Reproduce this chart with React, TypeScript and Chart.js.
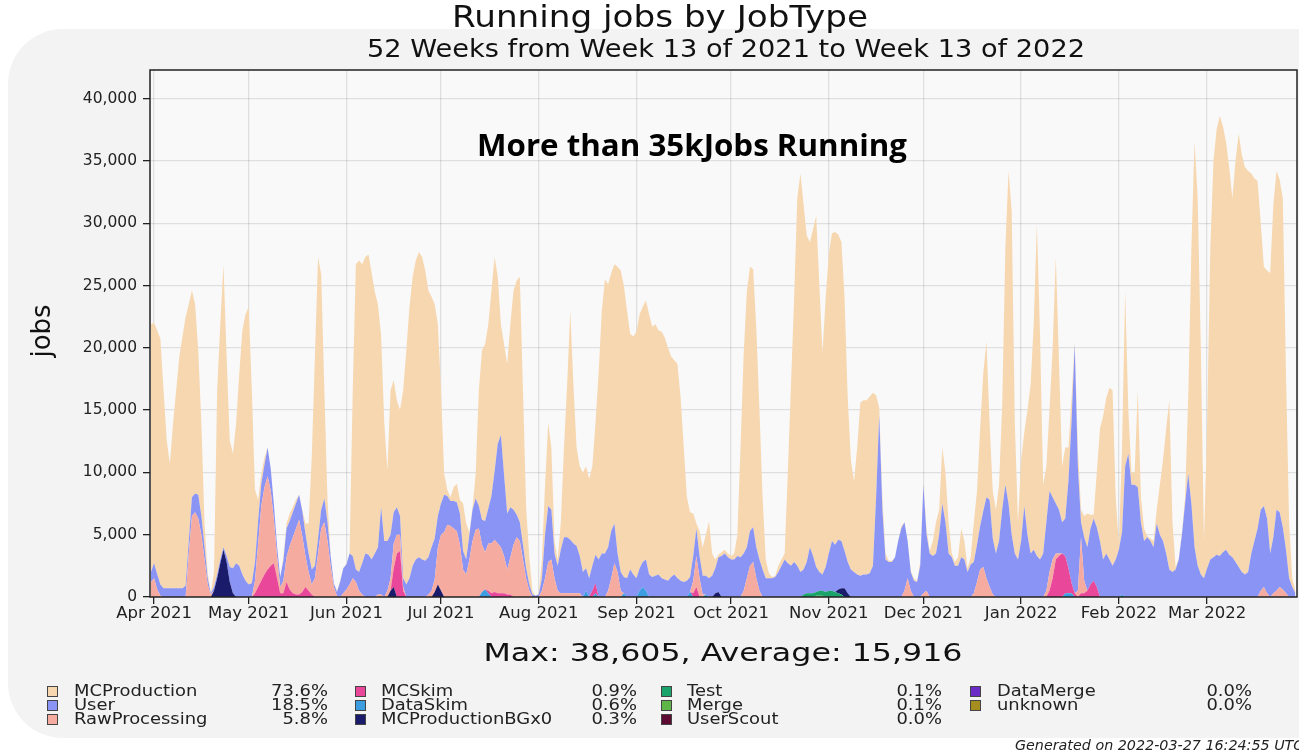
import React, { useEffect, useRef } from "react";
import { Chart, registerables } from "chart.js";

Chart.register(...registerables);

// x = day number, day 0 = 1 Apr 2021. One value per day, first value is day -1.
const FIRST_DAY = -1;
const X_MIN = -1.3;
const X_MAX = 362.5;

const MONTH_TICK_DAYS = [0, 30, 61, 91, 122, 153, 183, 214, 244, 275, 306, 334];
const MONTH_TICK_LABELS = [
  "Apr 2021", "May 2021", "Jun 2021", "Jul 2021", "Aug 2021", "Sep 2021",
  "Oct 2021", "Nov 2021", "Dec 2021", "Jan 2022", "Feb 2022", "Mar 2022",
];

const Y_MAX = 42300;
const Y_TICK_VALUES = [0, 5000, 10000, 15000, 20000, 25000, 30000, 35000, 40000];

const MC_PRODUCTION = [
  19900, 19300, 19600, 19700, 15900, 11900, 10000, 13200, 15900, 18600,
  20200, 21600, 19000, 16600, 15200, 11600, 7400, 1900, 400, 0,
  1200, 14800, 18900, 22700, 16000, 10200, 9200, 11200, 15400, 19600,
  21400, 22300, 15500, 5800, 1700, 800, 600, 0, 0, 0,
  0, 0, 300, 400, 600, 400, 300, 0, 100, 800,
  2400, 9000, 16800, 22600, 18900, 8700, 1800, 0, 0, 100,
  100, 0, 100, 0, 13300, 24500, 25000, 24000, 23800, 24100,
  23000, 21000, 19500, 13800, 9500, 5700, 11600, 10600, 8600, 8500,
  15100, 18800, 21800, 23200, 24000, 24500, 24300, 23300, 21400, 20100,
  18800, 15400, 9100, 1700, 500, 300, 1100, 1500, 1100, 3800,
  2900, 200, 200, 2000, 9300, 13600, 14200, 14800, 16500, 17200,
  13400, 8900, 10500, 12000, 14700, 17600, 18800, 19700, 12400, 4900,
  2200, 300, 0, 100, 1500, 4000, 6700, 5000, 1000, 500,
  2200, 7200, 12200, 18400, 12700, 7900, 7200, 8000, 8200, 8000,
  8000, 10600, 15000, 19500, 22000, 21100, 20700, 20800, 23000, 24200,
  23400, 21500, 18900, 19100, 19800, 20400, 20500, 20800, 20900, 20100,
  20200, 19600, 19800, 19400, 18700, 17700, 17200, 17200, 14700, 10800,
  6700, 5200, 3400, 400, 2000, 2300, 3300, 4600, 1800, 700,
  200, 300, 300, 300, 300, 500, 1700, 8800, 16000, 20500,
  21200, 20700, 17600, 12000, 5800, 1500, 400, 100, 100, 500,
  500, 500, 7300, 14500, 21200, 29500, 32000, 29300, 26200, 24500,
  26200, 28200, 23100, 17800, 21600, 24000, 24700, 25100, 24500, 24000,
  20300, 13200, 8800, 7300, 10200, 13900, 14000, 14000, 14200, 13900,
  8200, 600, 1000, 500, 100, 100, 0, 0, 200, 0,
  0, 100, 200, 100, 300, 200, 500, 200, 1200, 2500,
  2000, 4500, 4000, 2500, 300, 300, 700, 2300, 1500, 300,
  600, 3200, 4300, 7800, 11100, 12500, 6200, 3800, 3500, 4500,
  8500, 19000, 26700, 26000, 10500, 3000, 6500, 5900, 10000, 13500,
  18200, 26700, 18000, 5500, 4500, 6500, 12000, 19800, 12000, 4500,
  5700, 2700, 1900, 200, 1500, 1000, 1700, 2700, 1100, 300,
  4400, 9000, 11500, 12500, 13800, 14100, 5000, 400, 6800, 14100,
  3500, 1000, 1000, 7800, 2000, 1000, 100, 200, 500, 1100,
  4000, 6500, 10000, 13600, 4000, 200, 100, 200, 500, 6100,
  20500, 32600, 29500, 18200, 3000, 11700, 25000, 31800, 34100, 35300,
  34200, 32700, 31100, 28800, 32200, 34800, 33500, 32700, 32200, 30500,
  29100, 27900, 23000, 19200, 19900, 22500, 26700, 27200, 26700, 26400,
  14200, 4500, 700, 200,
];

const USER = [
  800, 1200, 1200, 900, 700, 700, 700, 700, 700, 700,
  700, 900, 1000, 1500, 1500, 1900, 1500, 1000, 500, 100,
  300, 300, 300, 200, 500, 1200, 2000, 2700, 2500, 1800,
  1300, 1000, 1100, 1500, 1800, 1800, 1800, 2300, 1800, 1200,
  800, 800, 1600, 2300, 2000, 2000, 2000, 2000, 2000, 1800,
  1500, 1200, 1000, 1200, 1500, 1900, 1500, 800, 300, 300,
  1200, 2000, 2000, 2500, 1800, 1000, 1500, 2500, 3500, 3400,
  3000, 3500, 3800, 7000, 4500, 4000, 3500, 2500, 2200, 1500,
  700, 1000, 1500, 2500, 3000, 3200, 3000, 2900, 3000, 3500,
  3300, 2500, 2500, 3000, 2300, 2000, 2200, 2300, 2500, 1500,
  1200, 2000, 2500, 2500, 1800, 2000, 2500, 2800, 3800, 5500,
  8000, 9000, 6500, 4500, 4000, 2800, 1800, 1500, 1200, 800,
  500, 200, 100, 200, 1000, 3500, 4500, 4000, 2000, 2000,
  3500, 4500, 4500, 4300, 4000, 3800, 3000, 2000, 1800, 1500,
  2000, 2300, 3000, 3500, 3500, 3500, 3800, 3200, 1500, 1500,
  1300, 1500, 2200, 1800, 1500, 1800, 2000, 2500, 1800, 1600,
  1700, 1800, 1500, 1400, 1300, 1600, 1800, 1500, 1300, 1200,
  1300, 1200, 2000, 2200, 1800, 1500, 1500, 1500, 1700, 2000,
  2800, 3300, 3500, 3200, 3000, 3000, 3300, 3200, 3000, 2500,
  2800, 2800, 2500, 2500, 2200, 1500, 1500, 1500, 1600, 2000,
  2500, 3000, 2700, 2500, 2800, 2500, 2000, 2000, 2500, 3700,
  3000, 2000, 1500, 1300, 2000, 3000, 4000, 3800, 4000, 3800,
  3000, 2500, 2200, 2000, 1800, 1700, 1800, 1800, 1900, 2500,
  8000, 14600, 7000, 3000, 2800, 2800, 3200, 4500, 5500, 5500,
  3000, 1500, 1300, 1200, 2500, 8700, 4500, 3500, 3300, 3500,
  5000, 7500, 6000, 3500, 3200, 2500, 2500, 3200, 3000, 2000,
  2600, 2500, 3000, 3500, 4500, 6500, 7000, 4500, 3500, 4500,
  7000, 9000, 7500, 5000, 3500, 3000, 4500, 7300, 5000, 3500,
  3800, 3300, 3000, 3500, 5500, 6500, 5000, 4000, 3500, 2500,
  3000, 7000, 13000, 20000, 10000, 1200, 3500, 3500, 4500, 5000,
  4800, 4500, 3000, 3500, 3000, 2500, 3000, 3800, 5000, 10500,
  11500, 9000, 9000, 8800, 6000, 4500, 4800, 4500, 4000, 5900,
  5000, 4500, 3500, 2200, 2000, 2200, 3000, 5000, 7500, 9900,
  7500, 4000, 2500, 1800, 1500, 2300, 3000, 3200, 3400, 3300,
  3600, 3800, 3400, 3200, 2800, 2400, 2000, 1800, 2000, 3500,
  4500, 5500, 6500, 6500, 6000, 3500, 4500, 6500, 6000, 5000,
  3500, 1500, 800, 300,
];

const RAW_PROCESSING = [
  1200, 1500, 600, 100, 0, 0, 0, 0, 0, 0,
  0, 0, 3500, 6500, 6800, 6300, 5000, 3000, 1000, 200,
  0, 0, 0, 0, 0, 0, 0, 0, 0, 0,
  0, 0, 0, 1000, 3500, 6000, 7000, 7500, 6000, 3500,
  1800, 500, 1000, 2000, 3500, 4500, 5300, 6000, 4500, 2500,
  1500, 800, 1500, 3500, 5500, 6000, 4500, 2500, 800, 100,
  0, 300, 600, 1000, 1500, 1200, 500, 200, 0, 0,
  0, 0, 200, 200, 0, 500, 1000, 2000, 1500, 1300,
  300, 0, 0, 0, 0, 0, 0, 0, 200, 500,
  1000, 3000, 4500, 5200, 5800, 5700, 5500, 5300, 4200, 2200,
  1800, 3000, 4500, 5400, 5500, 3800, 3000, 3800, 4000, 4200,
  4000, 3700, 3000, 2000, 3000, 4200, 4800, 4500, 3000, 1500,
  500, 0, 0, 0, 500, 1500, 2800, 3000, 1500, 500,
  300, 300, 300, 300, 300, 300, 300, 0, 0, 0,
  0, 0, 0, 0, 0, 500, 1500, 2700, 2000, 500,
  0, 0, 0, 0, 0, 0, 0, 0, 0, 0,
  0, 0, 0, 0, 0, 0, 0, 0, 0, 0,
  0, 0, 1000, 2500, 1500, 200, 0, 0, 0, 0,
  0, 0, 0, 0, 0, 0, 0, 0, 500, 1500,
  2500, 2800, 1500, 500, 0, 0, 0, 0, 0, 0,
  0, 0, 0, 0, 0, 0, 0, 0, 0, 0,
  0, 0, 0, 0, 0, 0, 0, 0, 0, 0,
  0, 0, 0, 0, 0, 0, 0, 0, 0, 0,
  0, 0, 0, 0, 0, 0, 0, 0, 0, 500,
  1500, 500, 0, 0, 0, 300, 500, 0, 0, 0,
  0, 0, 0, 0, 0, 0, 0, 0, 0, 0,
  0, 300, 1200, 2200, 2400, 1500, 800, 200, 0, 0,
  0, 0, 0, 0, 0, 0, 0, 0, 0, 0,
  0, 0, 0, 0, 500, 1500, 1500, 500, 200, 0,
  0, 0, 0, 0, 500, 4500, 1000, 0, 0, 0,
  0, 0, 0, 0, 0, 0, 0, 0, 0, 0,
  0, 0, 0, 0, 0, 0, 0, 0, 0, 0,
  0, 0, 0, 0, 0, 0, 0, 0, 0, 0,
  0, 0, 0, 0, 0, 0, 0, 0, 0, 0,
  0, 0, 0, 0, 0, 0, 0, 0, 0, 0,
  0, 0, 500, 800, 300, 0, 300, 500, 800, 600,
  300, 0, 0, 0,
];

// sparse series: [day, jobs]
const MC_SKIM: [number, number][] = [
  [32, 300], [33, 800], [34, 1300], [35, 1800], [36, 2200], [37, 2500], [38, 2700], [39, 1500],
  [40, 300], [41, 300], [42, 1200], [43, 600], [44, 300], [45, 200], [46, 200], [47, 400],
  [48, 800], [49, 500], [50, 200], [76, 1500], [77, 3500], [78, 3700], [79, 500],
  [106, 200], [107, 300], [108, 400], [109, 300], [110, 300], [111, 300], [112, 200], [113, 200],
  [139, 500], [140, 800], [171, 300], [172, 800],
  [284, 500], [285, 1500], [286, 3000], [287, 3300], [288, 3500], [289, 3000], [290, 2000],
  [291, 800], [292, 300], [294, 300], [295, 300], [296, 500], [297, 1000], [298, 1300], [299, 800],
];
const DATA_SKIM: [number, number][] = [
  [104, 400], [105, 600], [106, 300], [137, 500], [140, 300], [149, 300], [154, 500],
  [155, 800], [156, 500], [170, 400], [175, 200], [289, 300], [290, 300], [291, 300], [307, 200],
];
const MC_PRODUCTION_BGX0: [number, number][] = [
  [19, 500], [20, 1500], [21, 2700], [22, 3800], [23, 2800], [24, 1200], [25, 300],
  [75, 500], [76, 800], [89, 400], [90, 1000], [91, 500], [178, 300], [179, 400],
  [217, 300], [218, 500], [219, 700], [220, 300],
];
const TEST: [number, number][] = [
  [206, 200], [207, 300], [208, 300], [209, 300], [210, 300], [211, 400], [212, 400],
  [213, 400], [214, 500], [215, 500], [216, 400], [217, 300], [218, 200],
];
const MERGE: [number, number][] = [[210, 100], [211, 100], [212, 100]];
const USER_SCOUT: [number, number][] = [];
const DATA_MERGE: [number, number][] = [];
const UNKNOWN: [number, number][] = [];

const SERIES_NAMES = [
  "MCProduction", "User", "RawProcessing", "MCSkim", "DataSkim", "MCProductionBGx0",
  "Test", "Merge", "UserScout", "DataMerge", "unknown",
];
const SERIES_SHARES = [
  "73.6%", "18.5%", "5.8%", "0.9%", "0.6%", "0.3%", "0.1%", "0.1%", "0.0%", "0.0%", "0.0%",
];
const SERIES_COLORS = [
  "#f6d7b0", "#8a94f4", "#f6aba0", "#e8479a", "#3c9ee0", "#1b1b6b",
  "#1aa36b", "#5fb548", "#5c0a32", "#6a2bc7", "#a58e1f",
];

const TITLE = "Running jobs by JobType";
const SUBTITLE = "52 Weeks from Week 13 of 2021 to Week 13 of 2022";
const STATS = "Max: 38,605, Average: 15,916";
const Y_TITLE = "jobs";
const NOTE = "More than 35kJobs Running";
const GENERATED = "Generated on 2022-03-27 16:24:55 UTC";

const FONT = "'DejaVu Sans', sans-serif";

function dense(pairs: [number, number][], n: number): number[] {
  const arr = new Array(n).fill(0);
  pairs.forEach(([d, v]) => {
    arr[d - FIRST_DAY] = v;
  });
  return arr;
}

function fitText(ctx: CanvasRenderingContext2D, text: string, cx: number, baseY: number, font: string, targetW: number) {
  ctx.save();
  ctx.font = font;
  const w = ctx.measureText(text).width;
  ctx.translate(cx, baseY);
  ctx.scale(targetW / w, 1);
  ctx.textAlign = "center";
  ctx.textBaseline = "alphabetic";
  ctx.fillText(text, 0, 0);
  ctx.restore();
}

function roundRectPath(ctx: CanvasRenderingContext2D, x: number, y: number, w: number, h: number, r: number) {
  ctx.beginPath();
  ctx.moveTo(x + r, y);
  ctx.arcTo(x + w, y, x + w, y + h, r);
  ctx.arcTo(x + w, y + h, x, y + h, r);
  ctx.arcTo(x, y + h, x, y, r);
  ctx.arcTo(x, y, x + w, y, r);
  ctx.closePath();
}

const decorPlugin = {
  id: "decor",
  beforeDraw(chart: any) {
    const { ctx, chartArea: a } = chart;
    ctx.save();
    ctx.fillStyle = "#ffffff";
    ctx.fillRect(0, 0, chart.width, chart.height);
    ctx.fillStyle = "#f3f3f3";
    roundRectPath(ctx, 8, 29, 1400, 709, 55);
    ctx.fill();
    ctx.fillStyle = "#f9f9f9";
    ctx.fillRect(a.left, a.top, a.right - a.left, a.bottom - a.top);
    ctx.restore();
  },
  afterDraw(chart: any) {
    const { ctx, chartArea: a } = chart;
    ctx.save();
    ctx.strokeStyle = "#222";
    ctx.lineWidth = 1.5;
    ctx.strokeRect(a.left, a.top, a.right - a.left, a.bottom - a.top);
    ctx.fillStyle = "#111";
    fitText(ctx, TITLE, 660, 27, `30px ${FONT}`, 416);
    fitText(ctx, SUBTITLE, 726, 57, `25px ${FONT}`, 718);
    fitText(ctx, STATS, 723, 661, `25px ${FONT}`, 479);
    ctx.save();
    ctx.translate(50, 331);
    ctx.rotate(-Math.PI / 2);
    ctx.font = `26px ${FONT}`;
    ctx.textAlign = "center";
    ctx.textBaseline = "alphabetic";
    ctx.fillText(Y_TITLE, 0, 0);
    ctx.restore();
    ctx.fillStyle = "#000";
    fitText(ctx, NOTE, 692, 156, `bold 31px 'Open Sans', sans-serif`, 430);
    ctx.restore();
  },
};

const LEG_SQ_X = [47, 355, 661, 970];
const LEG_TXT_X = [74, 381, 687, 997];
const LEG_PCT_R = [328, 637, 942, 1252];
const LEG_ROW_Y = [691, 705, 719];

export default function App() {
  const canvasRef = useRef<HTMLCanvasElement | null>(null);

  useEffect(() => {
    document.body.style.margin = "0";
    const canvas = canvasRef.current;
    if (!canvas) return;
    const n = MC_PRODUCTION.length;
    const days = MC_PRODUCTION.map((_, i) => FIRST_DAY + i);
    const values = [
      MC_PRODUCTION,
      USER,
      RAW_PROCESSING,
      dense(MC_SKIM, n),
      dense(DATA_SKIM, n),
      dense(MC_PRODUCTION_BGX0, n),
      dense(TEST, n),
      dense(MERGE, n),
      dense(USER_SCOUT, n),
      dense(DATA_MERGE, n),
      dense(UNKNOWN, n),
    ];
    // stack from the bottom: last legend entry first
    const order = values.map((_, i) => values.length - 1 - i);
    const datasets = order.map((si, k) => ({
      label: SERIES_NAMES[si],
      data: days.map((d, i) => ({ x: d, y: values[si][i] })),
      backgroundColor: SERIES_COLORS[si],
      borderColor: SERIES_COLORS[si],
      borderWidth: 0,
      pointRadius: 0,
      tension: 0,
      fill: k === 0 ? "origin" : "-1",
    }));

    const GRID = "rgba(0,0,0,0.10)";
    const chart = new Chart(canvas, {
      type: "line",
      data: { datasets: datasets as any },
      options: {
        responsive: false,
        animation: false,
        devicePixelRatio: 1,
        events: [],
        layout: { padding: { top: 70, right: 2, left: 0, bottom: 0 } },
        plugins: {
          legend: { display: false },
          title: { display: false },
          tooltip: { enabled: false },
        },
        scales: {
          x: {
            type: "linear",
            min: X_MIN,
            max: X_MAX,
            z: 1,
            afterFit: (s: any) => {
              s.height = 155;
            },
            afterBuildTicks: (s: any) => {
              s.ticks = MONTH_TICK_DAYS.map((v) => ({ value: v }));
            },
            ticks: {
              autoSkip: false,
              maxRotation: 0,
              minRotation: 0,
              padding: 0,
              color: "#222",
              font: { family: FONT, size: 16.5 },
              callback: (_v: any, i: number) => MONTH_TICK_LABELS[i],
            },
            grid: { color: GRID, lineWidth: 1.3, tickColor: "#222", tickLength: 7 },
            border: { display: false },
          },
          y: {
            type: "linear",
            stacked: true,
            min: 0,
            max: Y_MAX,
            z: 1,
            afterFit: (s: any) => {
              s.width = 150;
            },
            afterBuildTicks: (s: any) => {
              s.ticks = Y_TICK_VALUES.map((v) => ({ value: v }));
            },
            ticks: {
              autoSkip: false,
              padding: 6,
              color: "#222",
              font: { family: FONT, size: 15.5 },
              callback: (_v: any, i: number) => Y_TICK_VALUES[i].toLocaleString("en-US"),
            },
            grid: { color: GRID, lineWidth: 1.3, tickColor: "#222", tickLength: 7 },
            border: { display: false },
          },
        },
      } as any,
      plugins: [decorPlugin as any],
    });
    return () => chart.destroy();
  }, []);

  const textStyle = {
    position: "absolute" as const,
    fontFamily: FONT,
    fontSize: 16,
    lineHeight: "18px",
    color: "#222",
    whiteSpace: "nowrap" as const,
  };

  const legendItems = SERIES_NAMES.map((name, i) => {
    const col = Math.floor(i / 3);
    const row = i % 3;
    const y = LEG_ROW_Y[row];
    return (
      <React.Fragment key={name}>
        <div
          style={{
            position: "absolute",
            left: LEG_SQ_X[col],
            top: y - 5,
            width: 9,
            height: 9,
            background: SERIES_COLORS[i],
            border: "1px solid #444",
          }}
        />
        <div
          style={{
            ...textStyle,
            left: LEG_TXT_X[col],
            top: y - 9,
            transform: "scaleX(1.12)",
            transformOrigin: "left center",
          }}
        >
          {name}
        </div>
        <div
          style={{
            ...textStyle,
            left: LEG_PCT_R[col] - 100,
            width: 100,
            top: y - 9,
            textAlign: "right",
            transform: "scaleX(1.12)",
            transformOrigin: "right center",
          }}
        >
          {SERIES_SHARES[i]}
        </div>
      </React.Fragment>
    );
  });

  return (
    <div style={{ position: "relative", width: 1299, height: 752, overflow: "hidden", background: "#fff" }}>
      <canvas ref={canvasRef} width={1299} height={752} style={{ position: "absolute", left: 0, top: 0, display: "block" }} />
      {legendItems}
      <div
        style={{
          position: "absolute",
          left: 1015,
          top: 737,
          fontFamily: FONT,
          fontStyle: "italic",
          fontSize: 14.3,
          lineHeight: "16px",
          color: "#222",
          whiteSpace: "nowrap",
        }}
      >
        {GENERATED}
      </div>
    </div>
  );
}
